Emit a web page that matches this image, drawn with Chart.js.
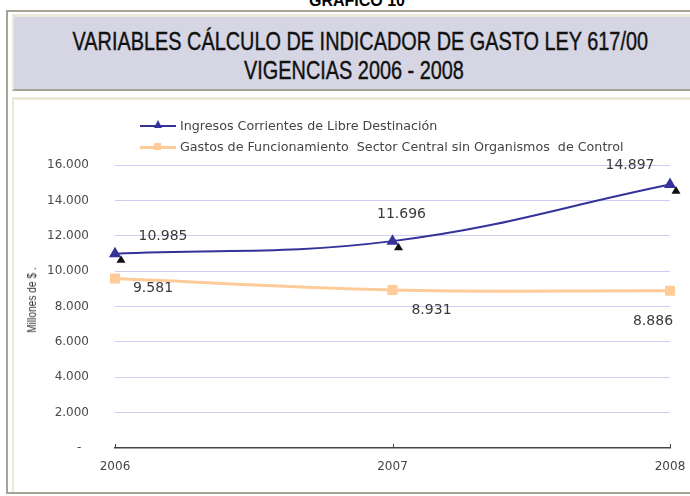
<!DOCTYPE html>
<html>
<head>
<meta charset="utf-8">
<script src="https://cdn.jsdelivr.net/npm/chart.js@4.4.1/dist/chart.umd.min.js"></script>
<style>
html, body { margin: 0; padding: 0; background: #fff; }
body { width: 690px; height: 496px; position: relative; overflow: hidden; font-family: 'DejaVu Sans', sans-serif; }
#sup { position: absolute; left: 0; top: -7px; width: 714px; text-align: center; font: bold 16px 'Liberation Sans', Arial, sans-serif; line-height: 16px; color: #000; }
#frame { position: absolute; left: 6px; top: 10px; width: 700px; height: 480px; border-left: 2px solid #a8a495; border-top: 2px solid #a8a495; border-bottom: 2px solid #a8a495; }
#head { position: absolute; left: 12px; top: 14px; width: 700px; height: 72px; background: #d5d5e3; border-left: 2px solid #ece9d8; border-top: 3px solid #ece9d8; border-bottom: 2px solid #a8a495; }
#title { position: absolute; left: 0; top: 27px; width: 708px; text-align: center; white-space: nowrap; font: 25px 'Liberation Sans', Arial, sans-serif; line-height: 29px; color: #111; -webkit-text-stroke: 0.4px #111; transform: scaleX(0.795); transform-origin: 354px 0; }
#panel { position: absolute; left: 12px; top: 97px; width: 700px; height: 392px; background: #fff; border-left: 2px solid #ece9d8; border-top: 3px solid #ece9d8; }
#chartBox { position: absolute; left: 14px; top: 100px; width: 676px; height: 392px; }
#ytitle { position: absolute; left: 32px; top: 300px; width: 120px; height: 14px; margin-left: -60px; margin-top: -7px; text-align: center; font: 13px 'Liberation Sans', Arial, sans-serif; line-height: 14px; color: #333; transform: rotate(-90deg) scaleX(0.78); white-space: pre; }
.leg { position: absolute; left: 140px; height: 16px; font-size: 12.7px; line-height: 16px; color: #444; white-space: pre; }
.leg .ln { position: absolute; left: 0; top: 7px; width: 36px; height: 2px; }
.leg .tx { position: absolute; left: 40px; top: 0; }
.tri { position: absolute; left: 14px; top: -5px; width: 0; height: 0; border-left: 4.5px solid transparent; border-right: 4.5px solid transparent; border-bottom: 8px solid #333399; }
.sq { position: absolute; left: 14px; top: -3px; width: 7px; height: 7px; background: #ffcc99; }
</style>
</head>
<body>
<div id="sup">GRÁFICO 10</div>
<div id="frame"></div>
<div id="head"></div>
<div id="title">VARIABLES CÁLCULO DE INDICADOR DE GASTO LEY 617/00<br>VIGENCIAS 2006 - 2008</div>
<div id="panel"></div>
<div id="chartBox"><canvas id="chart" width="676" height="392"></canvas></div>
<div id="ytitle">Millones de $ .</div>
<div class="leg" style="top:118px;width:420px;"><div class="ln" style="background:#333399;"><div class="tri"></div></div><span class="tx">Ingresos Corrientes de Libre Destinación</span></div>
<div class="leg" style="top:139px;width:540px;"><div class="ln" style="background:#ffcc99;height:3px;"><div class="sq"></div></div><span class="tx">Gastos de Funcionamiento  Sector Central sin Organismos  de Control</span></div>
<script>
const years = ['2006', '2007', '2008'];
const ingresos = [10985, 11696, 14897];
const gastos = [9581, 8931, 8886];
const yMax = 16000;
const yStep = 2000;

function fmt(v) {
    if (v === 0) return '-  ';
    return String(v).replace(/\B(?=(\d{3})+(?!\d))/g, '.');
}

// where each value label sits relative to its point
const labelOffsets = [
    [[48, -17], [9, -27], [-40, -19]],
    [[38, 10], [39, 20], [-17, 31]]
];

const extras = {
    id: 'extras',
    beforeDatasetsDraw(chart) {
        const ctx = chart.ctx;
        // dark shadow triangles under the blue markers
        const meta = chart.getDatasetMeta(0);
        ctx.save();
        ctx.fillStyle = '#111';
        meta.data.forEach(p => {
            const x = p.x + 6, y = p.y + 6, r = 4.5;
            ctx.beginPath();
            ctx.moveTo(x, y - r);
            ctx.lineTo(x + r, y + r * 0.7);
            ctx.lineTo(x - r, y + r * 0.7);
            ctx.closePath();
            ctx.fill();
        });
        // small inward tick marks on the x axis
        const xs = chart.scales.x;
        ctx.strokeStyle = '#444';
        ctx.lineWidth = 1;
        xs.ticks.forEach((t, i) => {
            const px = Math.round(xs.getPixelForTick(i)) + 0.5;
            ctx.beginPath();
            ctx.moveTo(px, chart.chartArea.bottom - 4);
            ctx.lineTo(px, chart.chartArea.bottom);
            ctx.stroke();
        });
        ctx.restore();
    },
    afterDatasetsDraw(chart) {
        const ctx = chart.ctx;
        ctx.save();
        ctx.font = '14px "DejaVu Sans", sans-serif';
        ctx.fillStyle = '#3a3a3a';
        ctx.textAlign = 'center';
        ctx.textBaseline = 'middle';
        chart.data.datasets.forEach((ds, di) => {
            chart.getDatasetMeta(di).data.forEach((p, i) => {
                const off = labelOffsets[di][i];
                ctx.fillText(fmt(ds.data[i]), p.x + off[0], p.y + off[1]);
            });
        });
        ctx.restore();
    }
};

const ctx = document.getElementById('chart').getContext('2d');
new Chart(ctx, {
    type: 'line',
    data: {
        labels: years,
        datasets: [{
            label: 'Ingresos Corrientes de Libre Destinación',
            data: ingresos,
            borderColor: '#333399',
            backgroundColor: '#333399',
            borderWidth: 2,
            pointStyle: 'triangle',
            pointRadius: 5,
            pointHoverRadius: 5,
            tension: 0.4
        }, {
            label: 'Gastos de Funcionamiento  Sector Central sin Organismos  de Control',
            data: gastos,
            borderColor: '#ffcc99',
            backgroundColor: '#ffcc99',
            borderWidth: 3,
            pointStyle: 'rect',
            pointRadius: 5,
            pointHoverRadius: 5,
            tension: 0.4
        }]
    },
    options: {
        responsive: false,
        animation: false,
        events: [],
        layout: { padding: { top: 65, right: 20, bottom: 0, left: 0 } },
        plugins: {
            legend: { display: false },
            tooltip: { enabled: false }
        },
        scales: {
            x: {
                afterFit: s => { s.height = 44; },
                grid: { display: false },
                border: { display: true, color: '#444', width: 1.5 },
                ticks: {
                    color: '#444',
                    font: { family: 'DejaVu Sans', size: 12 },
                    padding: 4,
                    maxRotation: 0
                }
            },
            y: {
                min: 0,
                max: yMax,
                afterFit: s => { s.width = 101; },
                grid: {
                    color: ctx => ctx.tick.value === 0 ? 'rgba(0,0,0,0)' : '#ccccf5',
                    lineWidth: 1,
                    drawTicks: false
                },
                border: { display: false },
                ticks: {
                    stepSize: yStep,
                    padding: 26,
                    color: '#4a4a4a',
                    font: { family: 'DejaVu Sans', size: 12 },
                    callback: v => fmt(v)
                }
            }
        }
    },
    plugins: [extras]
});
</script>
</body>
</html>
